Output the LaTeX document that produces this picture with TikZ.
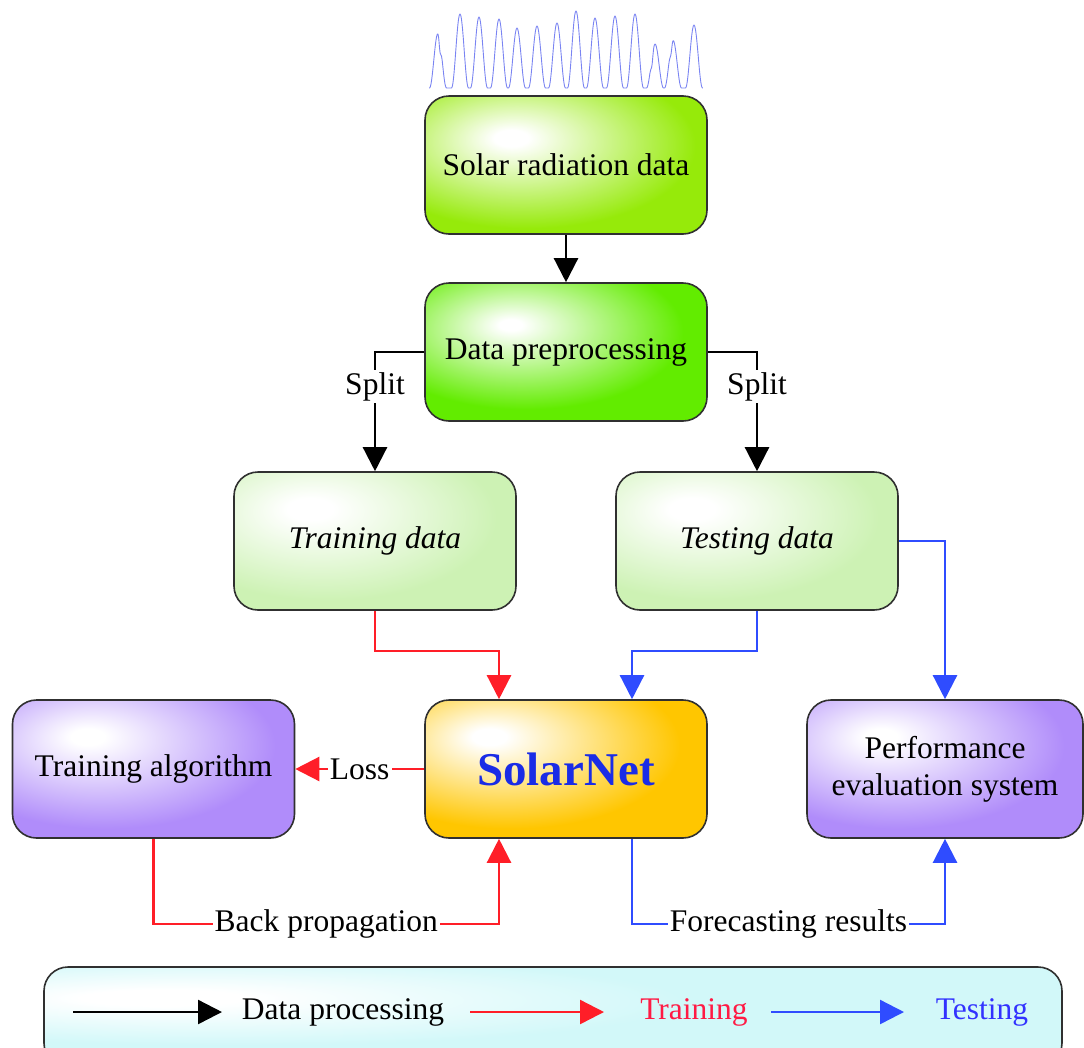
\documentclass[tikz,border=0pt]{standalone}
\usepackage{fontspec}
\setmainfont{Liberation Serif}
\usetikzlibrary{arrows.meta,calc}

% fill colours of the boxes
\definecolor{edgegray}{HTML}{303030}
\definecolor{limeG}{HTML}{96EA0A}
\definecolor{deepG}{HTML}{62EC00}
\definecolor{paleG}{HTML}{CDF2B4}
\definecolor{lilac}{HTML}{B08CFA}
\definecolor{gold}{HTML}{FFC600}
\definecolor{legcyan}{HTML}{D2F8F9}
\definecolor{linered}{HTML}{FF1E28}
\definecolor{lineblue}{HTML}{2F4CFF}
\definecolor{txtred}{HTML}{FF1A44}
\definecolor{txtblue}{HTML}{3232FF}
\definecolor{netblue}{HTML}{1A2CE6}
\definecolor{wave}{HTML}{7A84F2}

% light spot towards the upper left, full colour at the rim
\pgfdeclareradialshading{limeshade}{\pgfpoint{-10bp}{10bp}}{color(0bp)=(white);color(3bp)=(white);color(30bp)=(limeG);color(100bp)=(limeG)}
\pgfdeclareradialshading{deepshade}{\pgfpoint{-10bp}{10bp}}{color(0bp)=(white);color(2bp)=(white);color(28bp)=(deepG);color(100bp)=(deepG)}
\pgfdeclareradialshading{paleshade}{\pgfpoint{-12bp}{12bp}}{color(0bp)=(white);color(4bp)=(white);color(30bp)=(paleG);color(100bp)=(paleG)}
\pgfdeclareradialshading{lilacshade}{\pgfpoint{-12bp}{12bp}}{color(0bp)=(white);color(3bp)=(white);color(30bp)=(lilac);color(100bp)=(lilac)}
\pgfdeclareradialshading{goldshade}{\pgfpoint{-14bp}{12bp}}{color(0bp)=(white);color(3bp)=(white);color(30bp)=(gold);color(100bp)=(gold)}
\pgfdeclareradialshading{legshade}{\pgfpoint{-20bp}{10bp}}{color(0bp)=(white);color(4bp)=(white);color(22bp)=(legcyan);color(100bp)=(legcyan)}

\begin{document}
\begin{tikzpicture}[x=1pt,y=-1pt,
  txt/.style={font=\fontsize{31.5}{37}\selectfont},
  box/.style={txt,draw=edgegray,line width=1.6pt,rounded corners=24pt,
    minimum width=282pt,minimum height=138pt,align=center,inner sep=0pt},
  tip/.style={-{Triangle[length=24pt,width=24pt]}},
  dataline/.style={tip,line width=2.4pt,black},
  trainline/.style={tip,line width=2.4pt,linered},
  testline/.style={tip,line width=2.4pt,lineblue},
  tag/.style={txt,text=black,fill=white,inner sep=2pt},
  waveline/.style={wave,line width=0.9pt,line join=round}]

\useasboundingbox (0,0) rectangle (1084,1047);

% daily radiation curve above the first box
\draw[waveline] (429,88)
  \foreach \c/\h/\d/\o in {438/55/12/2, 460/74/0/0, 479/71/0/0, 499/69/0/0,
      517/60/0/0, 537/62/0/0, 557/65/0/0, 576/77/0/0, 595/70/0/0, 615/72/0/0,
      635/74/0/0, 655/44/9/-3, 673/48/8/-2, 694/63/0/0}
  { -- plot[domain=-8.5:8.5,samples=25,smooth]
      ({\c+\x},{88-\h*pow(cos(90*\x/8.5),2)+\d*exp(-pow((\x-\o)/1.3,2))}) }
  -- (702,88);

% boxes
\node[box,shading=limeshade]  (solar) at (566,165) {Solar radiation data};
\node[box,shading=deepshade]  (prep)  at (566,352) {Data preprocessing};
\node[box,shading=paleshade]  (train) at (375,541) {\itshape Training data};
\node[box,shading=paleshade]  (test)  at (757,541) {\itshape Testing data};
\node[box,shading=lilacshade] (talg)  at (153.5,769) {Training algorithm};
\node[box,shading=goldshade]  (net)   at (566,769)
  {\fontsize{47}{50}\selectfont\bfseries\color{netblue}SolarNet};
\node[box,shading=lilacshade,minimum width=276pt] (perf) at (945,769)
  {Performance\\evaluation system};

% data processing flow
\draw[dataline] (solar) -- (prep);
\draw[dataline] (prep.west) -| node[tag,pos=0.645] {Split} (train.north);
\draw[dataline] (prep.east) -| node[tag,pos=0.645] {Split} (test.north);

% training flow
\draw[trainline] (train.south) -- ++(0,40) -| ([xshift=-67pt]net.north);
\draw[trainline] (net.west) -- node[tag,pos=0.5] {Loss} (talg.east);
\draw[trainline] (talg.south) -- ++(0,85)
  -| node[tag,pos=0.25] {Back propagation} ([xshift=-67pt]net.south);

% testing flow
\draw[testline] (test.south) -- ++(0,40) -| ([xshift=66pt]net.north);
\draw[testline] (test.east) -| (perf.north);
\draw[testline] ([xshift=66pt]net.south) -- ++(0,85)
  -| node[tag,pos=0.25] {Forecasting results} (perf.south);

% legend
\node[draw=edgegray,line width=1.6pt,rounded corners=24pt,shading=legshade,
  minimum width=1018pt,minimum height=100pt] (legend) at (553,1017) {};
\node[txt] (lgData)  at (343,1012) {Data processing};
\node[txt,text=txtred]  (lgTrain) at (694,1012) {Training};
\node[txt,text=txtblue] (lgTest)  at (982,1012) {Testing};
\coordinate (lgA0) at (73,1012);  \coordinate (lgA1) at (222,1012);
\coordinate (lgB0) at (470,1012); \coordinate (lgB1) at (604,1012);
\coordinate (lgC0) at (771,1012); \coordinate (lgC1) at (904,1012);
\draw[dataline]  (lgA0) -- (lgA1);
\draw[trainline] (lgB0) -- (lgB1);
\draw[testline]  (lgC0) -- (lgC1);

\end{tikzpicture}
\end{document}
